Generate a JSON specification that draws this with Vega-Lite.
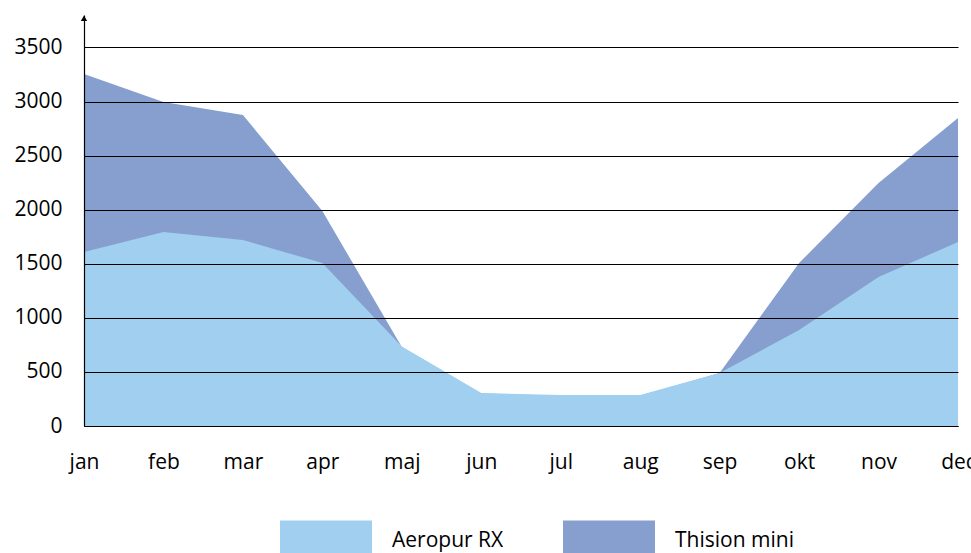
{
  "$schema": "https://vega.github.io/schema/vega-lite/v6.json",
  "autosize": {"type": "none"},
  "width": 874,
  "height": 411,
  "padding": {"left": 84, "top": 15, "right": 13, "bottom": 127},
  "background": "white",
  "config": {
    "view": {"stroke": null},
    "font": "Open Sans"
  },
  "datasets": {
    "series": [
      {"month": "jan", "series": "Aeropur RX", "value": 1609},
      {"month": "feb", "series": "Aeropur RX", "value": 1794},
      {"month": "mar", "series": "Aeropur RX", "value": 1720},
      {"month": "apr", "series": "Aeropur RX", "value": 1507},
      {"month": "maj", "series": "Aeropur RX", "value": 735},
      {"month": "jun", "series": "Aeropur RX", "value": 305},
      {"month": "jul", "series": "Aeropur RX", "value": 287},
      {"month": "aug", "series": "Aeropur RX", "value": 287},
      {"month": "sep", "series": "Aeropur RX", "value": 490},
      {"month": "okt", "series": "Aeropur RX", "value": 888},
      {"month": "nov", "series": "Aeropur RX", "value": 1378},
      {"month": "dec", "series": "Aeropur RX", "value": 1701},
      {"month": "jan", "series": "Thision mini", "value": 3254},
      {"month": "feb", "series": "Thision mini", "value": 2996},
      {"month": "mar", "series": "Thision mini", "value": 2875},
      {"month": "apr", "series": "Thision mini", "value": 1988},
      {"month": "maj", "series": "Thision mini", "value": 730},
      {"month": "jun", "series": "Thision mini", "value": 300},
      {"month": "jul", "series": "Thision mini", "value": 280},
      {"month": "aug", "series": "Thision mini", "value": 280},
      {"month": "sep", "series": "Thision mini", "value": 490},
      {"month": "okt", "series": "Thision mini", "value": 1507},
      {"month": "nov", "series": "Thision mini", "value": 2247},
      {"month": "dec", "series": "Thision mini", "value": 2848}
    ],
    "arrow": [{"month": "jan", "value": 3770}]
  },
  "encoding": {
    "x": {
      "field": "month",
      "type": "ordinal",
      "sort": ["jan", "feb", "mar", "apr", "maj", "jun", "jul", "aug", "sep", "okt", "nov", "dec"],
      "scale": {"type": "point", "padding": 0},
      "axis": {
        "title": null,
        "labelAngle": 0,
        "ticks": false,
        "labelPadding": 25,
        "labelFontSize": 21,
        "labelFont": "Open Sans",
        "labelColor": "black",
        "labelDx": 4,
        "domainColor": "black",
        "domainWidth": 1.2,
        "grid": false
      }
    },
    "y": {
      "field": "value",
      "type": "quantitative",
      "scale": {"domain": [0, 3800], "nice": false},
      "axis": {
        "title": null,
        "format": "d",
        "values": [0, 500, 1000, 1500, 2000, 2500, 3000, 3500],
        "ticks": false,
        "labelPadding": 22,
        "labelFontSize": 21,
        "labelFont": "Open Sans",
        "labelColor": "black",
        "domainColor": "black",
        "domainWidth": 1.2,
        "grid": true,
        "gridColor": "black",
        "gridWidth": 1,
        "gridOpacity": 1,
        "zindex": 1,
        "minExtent": 84,
        "maxExtent": 84
      }
    }
  },
  "layer": [
    {
      "data": {"name": "series"},
      "transform": [{"filter": "datum.series === 'Thision mini'"}],
      "mark": {"type": "area", "opacity": 1},
      "encoding": {
        "color": {
          "field": "series",
          "type": "nominal",
          "scale": {"domain": ["Aeropur RX", "Thision mini"], "range": ["#a0cff0", "#869fce"]},
          "legend": {
            "title": null,
            "orient": "none",
            "direction": "horizontal",
            "legendX": 196,
            "legendY": 476,
            "padding": 0,
            "symbolType": "M-1,-0.37H1V0.37H-1Z",
            "symbolSize": 8464,
            "symbolStrokeWidth": 0,
            "symbolOpacity": 1,
            "labelFontSize": 21,
            "labelFont": "Open Sans",
            "labelColor": "black",
            "labelOffset": 20,
            "columnPadding": 59,
            "encode": {"labels": {"update": {"dy": {"value": 4}}}}
          }
        }
      }
    },
    {
      "data": {"name": "series"},
      "transform": [{"filter": "datum.series === 'Aeropur RX'"}],
      "mark": {"type": "area", "opacity": 1},
      "encoding": {
        "color": {"field": "series", "type": "nominal"}
      }
    },
    {
      "data": {"name": "arrow"},
      "mark": {"type": "point", "shape": "triangle-up", "filled": true, "color": "black", "size": 40, "opacity": 1},
      "encoding": {}
    }
  ]
}
